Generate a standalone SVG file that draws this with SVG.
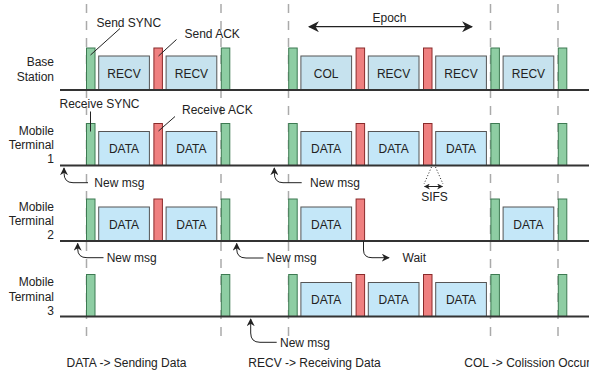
<svg xmlns="http://www.w3.org/2000/svg" width="589" height="374" viewBox="0 0 589 374">
<style>
text{font-family:"Liberation Sans",Arial,sans-serif;font-size:12px;fill:#222}
.rl{text-anchor:end}
.c{text-anchor:middle}
.g{fill:#8ecda3;stroke:#3d7a52;stroke-width:1}
.r{fill:#ef8080;stroke:#8a2a2a;stroke-width:1}
.rv{fill:#c6e2ee;stroke:#555;stroke-width:1}
.dt{fill:#c4e7f8;stroke:#555;stroke-width:1}
.bl{stroke:#333;stroke-width:2}
.dash{stroke:#aaa;stroke-width:1.5;stroke-dasharray:9 8;fill:none}
.ld{stroke:#222;stroke-width:1;fill:none}
.ar{stroke:#222;stroke-width:1;fill:none;marker-end:url(#ah)}
</style>
<defs>
<marker id="ah" viewBox="0 0 10 10" refX="9" refY="5" markerWidth="8" markerHeight="8" markerUnits="userSpaceOnUse" orient="auto">
<path d="M0,0 L10,5 L0,10 L3,5 z" fill="#222"/>
</marker>
<marker id="ah2" viewBox="0 0 10 10" refX="9" refY="5" markerWidth="11" markerHeight="11" markerUnits="userSpaceOnUse" orient="auto-start-reverse">
<path d="M0,0 L10,5 L0,10 L3,5 z" fill="#222"/>
</marker>
<marker id="ah3" viewBox="0 0 10 10" refX="9" refY="5" markerWidth="6" markerHeight="6" markerUnits="userSpaceOnUse" orient="auto-start-reverse">
<path d="M0,0 L10,5 L0,10 L3,5 z" fill="#222"/>
</marker>
</defs>
<g id="gridlines">
<line class="dash" x1="86.5" y1="4" x2="86.5" y2="336"/>
<line class="dash" x1="221" y1="4" x2="221" y2="336"/>
<line class="dash" x1="288.5" y1="4" x2="288.5" y2="336"/>
<line class="dash" x1="490.5" y1="4" x2="490.5" y2="336"/>
<line class="dash" x1="558" y1="4" x2="558" y2="336"/>
</g>
<g id="base-station">
<text class="rl" x="54" y="66">Base</text>
<text class="rl" x="54" y="80.5">Station</text>
<rect class="g" x="86.5" y="48" width="8.5" height="42"/>
<rect class="rv" x="98.7" y="56" width="50.7" height="34"/>
<text class="c" x="124" y="77.5">RECV</text>
<rect class="r" x="153.9" y="48" width="8.5" height="42"/>
<rect class="rv" x="166.1" y="56" width="50.7" height="34"/>
<text class="c" x="191.4" y="77.5">RECV</text>
<rect class="g" x="221.3" y="48" width="8.5" height="42"/>
<rect class="g" x="288.7" y="48" width="8.5" height="42"/>
<rect class="rv" x="300.9" y="56" width="50.7" height="34"/>
<text class="c" x="326.2" y="77.5">COL</text>
<rect class="r" x="356.1" y="48" width="8.5" height="42"/>
<rect class="rv" x="368.3" y="56" width="50.7" height="34"/>
<text class="c" x="393.6" y="77.5">RECV</text>
<rect class="r" x="423.5" y="48" width="8.5" height="42"/>
<rect class="rv" x="435.7" y="56" width="50.7" height="34"/>
<text class="c" x="461" y="77.5">RECV</text>
<rect class="g" x="490.9" y="48" width="8.5" height="42"/>
<rect class="rv" x="503.1" y="56" width="50.7" height="34"/>
<text class="c" x="528.4" y="77.5">RECV</text>
<rect class="g" x="558.3" y="48" width="8.5" height="42"/>
<line class="bl" x1="60" y1="90" x2="589" y2="90"/>
</g>
<g id="mobile-terminal-1">
<text class="rl" x="54" y="134.5">Mobile</text>
<text class="rl" x="54" y="148.8">Terminal</text>
<text class="rl" x="54" y="163">1</text>
<rect class="g" x="86.5" y="123.5" width="8.5" height="42"/>
<rect class="dt" x="98.7" y="131.5" width="50.7" height="34"/>
<text class="c" x="124" y="153">DATA</text>
<rect class="r" x="153.9" y="123.5" width="8.5" height="42"/>
<rect class="dt" x="166.1" y="131.5" width="50.7" height="34"/>
<text class="c" x="191.4" y="153">DATA</text>
<rect class="g" x="221.3" y="123.5" width="8.5" height="42"/>
<rect class="g" x="288.7" y="123.5" width="8.5" height="42"/>
<rect class="dt" x="300.9" y="131.5" width="50.7" height="34"/>
<text class="c" x="326.2" y="153">DATA</text>
<rect class="r" x="356.1" y="123.5" width="8.5" height="42"/>
<rect class="dt" x="368.3" y="131.5" width="50.7" height="34"/>
<text class="c" x="393.6" y="153">DATA</text>
<rect class="r" x="423.5" y="123.5" width="8.5" height="42"/>
<rect class="dt" x="435.7" y="131.5" width="50.7" height="34"/>
<text class="c" x="461" y="153">DATA</text>
<rect class="g" x="490.9" y="123.5" width="8.5" height="42"/>
<rect class="g" x="558.3" y="123.5" width="8.5" height="42"/>
<line class="bl" x1="60" y1="165.5" x2="589" y2="165.5"/>
</g>
<g id="mobile-terminal-2">
<text class="rl" x="54" y="210.5">Mobile</text>
<text class="rl" x="54" y="224.5">Terminal</text>
<text class="rl" x="54" y="238.5">2</text>
<rect class="g" x="86.5" y="199" width="8.5" height="42"/>
<rect class="dt" x="98.7" y="207" width="50.7" height="34"/>
<text class="c" x="124" y="228.5">DATA</text>
<rect class="r" x="153.9" y="199" width="8.5" height="42"/>
<rect class="dt" x="166.1" y="207" width="50.7" height="34"/>
<text class="c" x="191.4" y="228.5">DATA</text>
<rect class="g" x="221.3" y="199" width="8.5" height="42"/>
<rect class="g" x="288.7" y="199" width="8.5" height="42"/>
<rect class="dt" x="300.9" y="207" width="50.7" height="34"/>
<text class="c" x="326.2" y="228.5">DATA</text>
<rect class="r" x="356.1" y="199" width="8.5" height="42"/>
<rect class="g" x="490.9" y="199" width="8.5" height="42"/>
<rect class="dt" x="503.1" y="207" width="50.7" height="34"/>
<text class="c" x="528.4" y="228.5">DATA</text>
<rect class="g" x="558.3" y="199" width="8.5" height="42"/>
<line class="bl" x1="60" y1="241" x2="589" y2="241"/>
</g>
<g id="mobile-terminal-3">
<text class="rl" x="54" y="285.5">Mobile</text>
<text class="rl" x="54" y="300.5">Terminal</text>
<text class="rl" x="54" y="314.5">3</text>
<rect class="g" x="86.5" y="274.5" width="8.5" height="42"/>
<rect class="g" x="221.3" y="274.5" width="8.5" height="42"/>
<rect class="g" x="288.7" y="274.5" width="8.5" height="42"/>
<rect class="dt" x="300.9" y="282.5" width="50.7" height="34"/>
<text class="c" x="326.2" y="304">DATA</text>
<rect class="r" x="356.1" y="274.5" width="8.5" height="42"/>
<rect class="dt" x="368.3" y="282.5" width="50.7" height="34"/>
<text class="c" x="393.6" y="304">DATA</text>
<rect class="r" x="423.5" y="274.5" width="8.5" height="42"/>
<rect class="dt" x="435.7" y="282.5" width="50.7" height="34"/>
<text class="c" x="461" y="304">DATA</text>
<rect class="g" x="490.9" y="274.5" width="8.5" height="42"/>
<rect class="g" x="558.3" y="274.5" width="8.5" height="42"/>
<line class="bl" x1="60" y1="316.5" x2="589" y2="316.5"/>
</g>
<g id="connectors">
<line class="ld" x1="90.5" y1="55" x2="120" y2="28.5"/>
<line class="ld" x1="158.5" y1="56" x2="176.5" y2="39.5"/>
<line class="ld" x1="90.5" y1="111.5" x2="90.5" y2="131.5"/>
<line class="ld" x1="158.5" y1="131" x2="175" y2="116.5"/>
<line x1="309" y1="26.7" x2="472" y2="26.7" stroke="#222" stroke-width="1.2" marker-start="url(#ah2)" marker-end="url(#ah2)"/>
<path class="ar" d="M88,182.7 H73 Q64,182.7 64,173 V168"/>
<path class="ar" d="M301.7,182.7 H283 Q274.3,182.7 274.3,173 V168"/>
<path class="ar" d="M103.5,257.7 H87 Q77.7,257.7 77.7,249 V243.5"/>
<path class="ar" d="M263.5,258 H246 Q236.7,258 236.7,249 V243.5"/>
<path class="ar" d="M276.7,342.3 H260 Q250.7,342.3 250.7,333 V319"/>
<path class="ar" d="M363.5,241 V250 Q363.5,257.7 372,257.7 H389"/>
<line x1="431.5" y1="167" x2="424" y2="184" stroke="#222" stroke-width="1" stroke-dasharray="1 2"/>
<line x1="435.5" y1="167" x2="443" y2="184" stroke="#222" stroke-width="1" stroke-dasharray="1 2"/>
<line x1="424.5" y1="186.5" x2="442.5" y2="186.5" stroke="#222" stroke-width="1" marker-start="url(#ah3)" marker-end="url(#ah3)"/>
</g>
<g id="annotations">
<text x="96.5" y="27">Send SYNC</text>
<text x="184.5" y="37.5">Send ACK</text>
<text x="59.5" y="107.5">Receive SYNC</text>
<text x="182" y="113.5">Receive ACK</text>
<text class="c" x="389.5" y="21.5">Epoch</text>
<text x="94.3" y="187">New msg</text>
<text x="310" y="187">New msg</text>
<text x="106.7" y="262">New msg</text>
<text x="266.7" y="262">New msg</text>
<text x="280" y="346.5">New msg</text>
<text x="402.5" y="261.5">Wait</text>
<text class="c" x="434.5" y="200.5">SIFS</text>
<text x="66.5" y="367">DATA -&gt; Sending Data</text>
<text x="248.3" y="367">RECV -&gt; Receiving Data</text>
<text x="464.3" y="367">COL -&gt; Colission Occur</text>
</g>
</svg>
